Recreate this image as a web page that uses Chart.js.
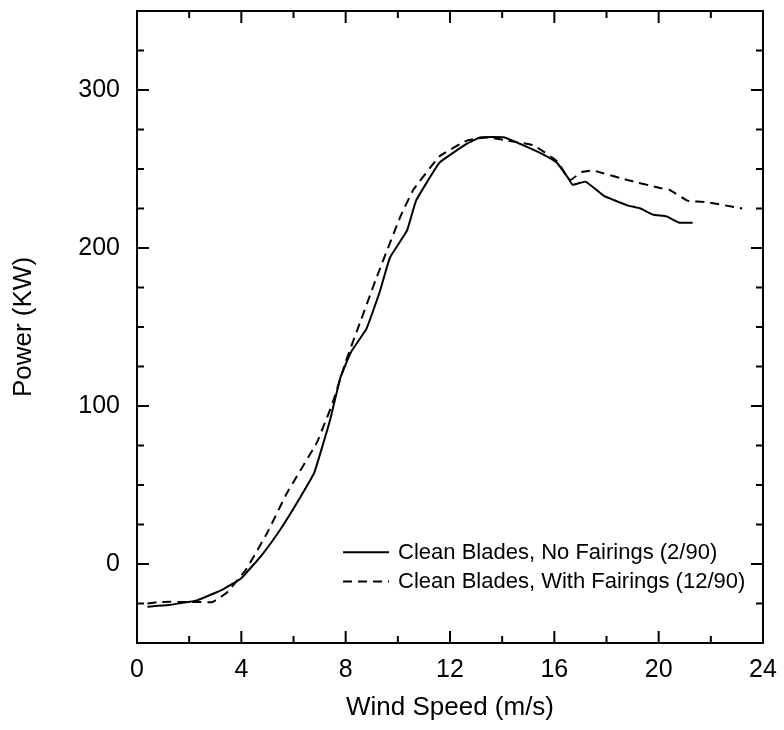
<!DOCTYPE html>
<html>
<head>
<meta charset="utf-8">
<script src="https://cdn.jsdelivr.net/npm/chart.js@4/dist/chart.umd.min.js"></script>
<style>
html,body{margin:0;padding:0;background:#fff;}
#wrap{width:784px;height:730px;position:relative;}
</style>
</head>
<body>
<div id="wrap"><canvas id="c" width="784" height="730"></canvas></div>
<script>
// Clean Blades, No Fairings (2/90)
const windNoFairings  = [0.4, 1.2, 2.3, 3.3, 4.0, 4.8, 5.5, 6.25, 6.8, 7.4, 7.8, 8.2, 8.8, 9.3, 9.7, 10.35, 10.7, 11.6, 12.65, 13.15, 14.1, 14.95, 15.6, 16.1, 16.5, 16.7, 17.2, 17.9, 18.8, 19.3, 19.8, 20.3, 20.8, 21.3];
const powerNoFairings = [-27, -26, -23, -16, -9, 6, 22, 42, 58, 91, 118, 134, 149, 172, 194, 211, 230, 254, 266, 270, 270, 264, 259, 254, 245, 240, 242, 233, 227, 225, 221, 220, 216, 216];
// Clean Blades, With Fairings (12/90)
const windFairings  = [0.4, 0.9, 2.0, 2.9, 3.45, 4.2, 5.0, 5.75, 6.9, 7.5, 8.0, 8.6, 9.2, 10.1, 10.6, 11.6, 12.65, 13.4, 14.2, 15.2, 16.1, 16.6, 17.05, 17.5, 18.8, 20.05, 20.4, 21.1, 21.85, 23.2];
const powerFairings = [-25, -24, -24, -24, -18, -3, 20, 45, 77, 102, 128, 155, 182, 220, 237, 258, 268, 270, 268, 265, 255, 243, 248, 249, 243, 238, 237, 230, 229, 225];

const seriesLabels = ['Clean Blades, No Fairings (2/90)', 'Clean Blades, With Fairings (12/90)'];
const xTickLabels = [0, 4, 8, 12, 16, 20, 24];
const yTickLabels = [0, 100, 200, 300];
const xTitle = 'Wind Speed (m/s)';
const yTitle = 'Power (KW)';

const FONT = "'Liberation Sans', Arial, Helvetica, sans-serif";

function toPoints(xs, ys){ return xs.map((x,i)=>({x:x, y:ys[i]})); }

const framePlugin = {
  id: 'frameTicks',
  afterDatasetsDraw(chart){
    const {ctx, chartArea:a, scales} = chart;
    const xs = scales.x, ys = scales.y;
    ctx.save();
    ctx.strokeStyle = '#000';
    ctx.lineWidth = 2;
    ctx.strokeRect(a.left, a.top, a.right - a.left, a.bottom - a.top);
    ctx.beginPath();
    for (let v = 0; v <= 24; v += 2) {
      const p = xs.getPixelForValue(v);
      const len = xTickLabels.includes(v) ? 12 : 7;
      ctx.moveTo(p, a.bottom); ctx.lineTo(p, a.bottom - len);
      ctx.moveTo(p, a.top); ctx.lineTo(p, a.top + len);
    }
    for (let v = -50; v <= 350; v += 25) {
      const p = ys.getPixelForValue(v);
      const len = yTickLabels.includes(v) ? 12 : 7;
      ctx.moveTo(a.left, p); ctx.lineTo(a.left + len, p);
      ctx.moveTo(a.right, p); ctx.lineTo(a.right - len, p);
    }
    ctx.stroke();

    // legend inside plot, lower right
    const lx = xs.getPixelForValue(7.9);
    const rows = [ys.getPixelForValue(7.5), ys.getPixelForValue(-11)];
    ctx.font = '22px ' + FONT;
    ctx.fillStyle = '#000';
    ctx.textBaseline = 'middle';
    ctx.textAlign = 'left';
    chart.data.datasets.forEach((ds, i) => {
      const y = rows[i];
      ctx.beginPath();
      ctx.lineWidth = 2;
      ctx.setLineDash(ds.borderDash || []);
      ctx.moveTo(lx, y); ctx.lineTo(lx + 46, y);
      ctx.stroke();
      ctx.setLineDash([]);
      ctx.fillText(ds.label, lx + 55, y + 1);
    });
    ctx.restore();
  }
};

new Chart(document.getElementById('c'), {
  type: 'line',
  data: {
    datasets: [
      { label: seriesLabels[0], data: toPoints(windNoFairings, powerNoFairings), borderColor: '#000', borderWidth: 2, pointRadius: 0, tension: 0.1, fill: false },
      { label: seriesLabels[1], data: toPoints(windFairings, powerFairings), borderColor: '#000', borderWidth: 2, borderDash: [9, 6], pointRadius: 0, tension: 0.1, fill: false }
    ]
  },
  options: {
    responsive: false,
    animation: false,
    layout: { padding: { top: 11, right: 21, left: 0, bottom: 0 } },
    plugins: { legend: { display: false }, tooltip: { enabled: false } },
    scales: {
      x: {
        type: 'linear', min: 0, max: 24,
        grid: { display: false, drawTicks: false }, border: { display: false },
        ticks: { stepSize: 2, autoSkip: false, maxRotation: 0, padding: 12, color: '#000',
          font: { size: 25, family: FONT },
          callback: v => xTickLabels.includes(v) ? String(v) : '' },
        title: { display: true, text: xTitle, color: '#000', font: { size: 26, family: FONT }, padding: { top: 0, bottom: 7 } },
        afterFit: s => { s.height = 730 - 643; s.paddingLeft = 0; s.paddingRight = 0; }
      },
      y: {
        type: 'linear', min: -50, max: 350,
        grid: { display: false, drawTicks: false }, border: { display: false },
        ticks: { stepSize: 25, autoSkip: false, padding: 17, color: '#000',
          font: { size: 25, family: FONT },
          callback: v => yTickLabels.includes(v) ? String(v) : '' },
        title: { display: true, text: yTitle, color: '#000', font: { size: 26, family: FONT }, padding: { top: 8, bottom: 0 } },
        afterFit: s => { s.width = 137; s.paddingTop = 0; s.paddingBottom = 0; }
      }
    }
  },
  plugins: [framePlugin]
});
</script>
</body>
</html>
